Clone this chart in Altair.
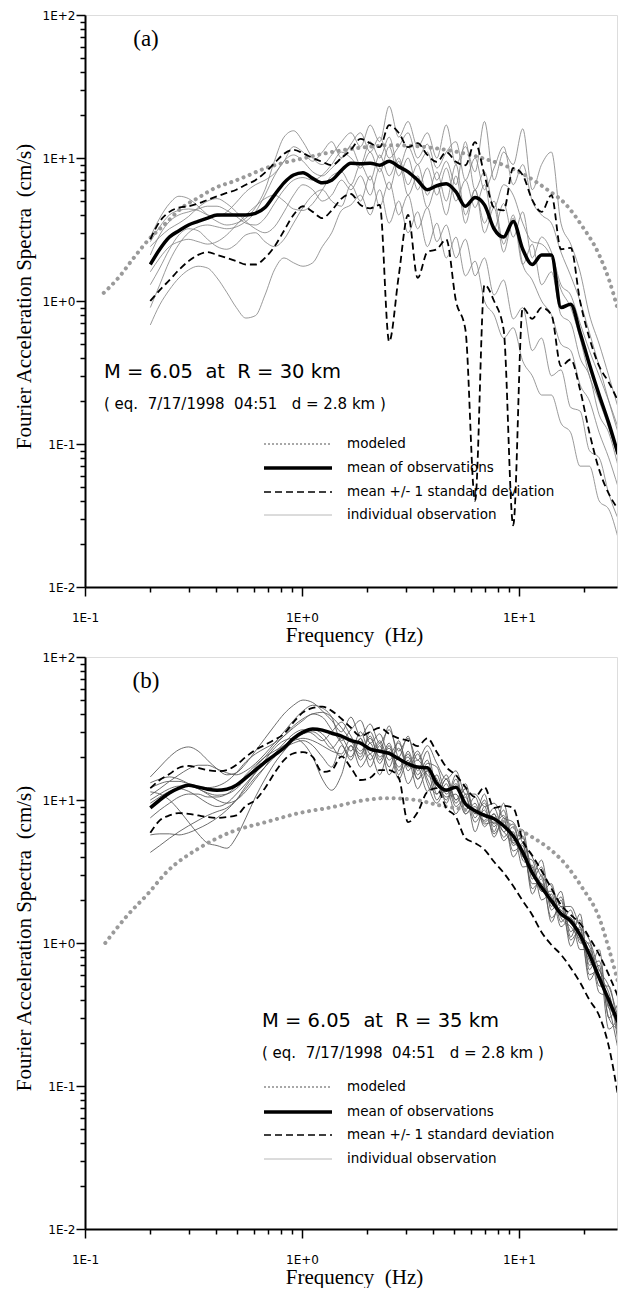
import altair as alt
import pandas as pd

# ---------------- data ----------------
FREQ = [0.200, 0.221, 0.245, 0.271, 0.300, 0.332, 0.367, 0.406, 0.450, 0.498,
        0.551, 0.610, 0.675, 0.746, 0.826, 0.914, 1.01, 1.12, 1.24, 1.37,
        1.52, 1.68, 1.86, 2.06, 2.28, 2.52, 2.79, 3.08, 3.41, 3.78,
        4.18, 4.62, 5.12, 5.66, 6.27, 6.93, 7.67, 8.49, 9.40, 10.4,
        11.5, 12.7, 14.1, 15.6, 17.3, 19.1, 21.1, 23.4, 25.9, 28.6]

# panel (a)
MOD_A_F = [0.122, 0.1435, 0.165, 0.197, 0.236, 0.28, 0.335, 0.40, 0.475, 0.57,
           0.68, 0.81, 0.97, 1.37, 1.97, 2.6, 3.35, 4.27, 5.7, 7.05,
           8.7, 10.8, 13.3, 16.5, 19.5, 23.4, 26.0, 28.6]
MOD_A = [1.14, 1.47, 1.94, 2.7, 3.5, 4.5, 5.3, 6.2, 6.8, 7.6,
         8.5, 9.2, 9.8, 11.0, 11.9, 12.3, 12.1, 11.6, 10.7, 9.8,
         8.8, 7.5, 6.1, 4.7, 3.35, 2.1, 1.4, 0.86]
MEAN_A = [1.8, 2.3, 2.8, 3.1, 3.4, 3.6, 3.8, 4.0, 4.0, 4.0,
          4.0, 4.1, 4.5, 5.5, 6.7, 7.6, 7.9, 7.2, 6.7, 7.0,
          8.2, 9.2, 9.1, 9.2, 8.9, 9.5, 8.7, 8.0, 7.0, 6.0,
          6.4, 6.6, 5.8, 4.6, 5.3, 4.7, 3.2, 2.8, 3.6, 2.3,
          1.8, 2.1, 2.1, 0.9, 0.95, 0.6, 0.36, 0.22, 0.14, 0.085]
UP_A = [2.7, 3.6, 4.2, 4.5, 4.6, 4.8, 5.1, 5.4, 5.7, 6.0,
        6.5, 7.0, 7.9, 9.2, 10.7, 11.4, 10.8, 10.0, 9.4, 8.9,
        10.0, 11.4, 13.6, 12.7, 11.9, 17.0, 15.0, 11.9, 12.7, 10.5,
        9.4, 11.0, 9.4, 8.9, 12.9, 7.6, 4.5, 4.3, 8.5, 7.6,
        5.1, 4.2, 5.5, 2.3, 2.35, 1.0, 0.55, 0.35, 0.27, 0.2]
LO_A = [1.0, 1.19, 1.4, 1.65, 1.9, 2.1, 2.2, 2.1, 2.0, 1.9,
        1.8, 1.8, 2.0, 2.4, 3.1, 4.0, 4.6, 4.2, 3.8, 4.3,
        5.2, 5.6, 4.7, 4.45, 4.7, 0.52, 1.5, 4.0, 1.45, 2.2,
        2.3, 2.7, 1.0, 0.63, 0.04, 1.3, 1.0, 0.63, 0.027, 0.9,
        0.75, 0.9, 0.8, 0.35, 0.39, 0.24, 0.12, 0.066, 0.045, 0.035]
OBS_A = [
    [2.8, 3.8, 4.8, 5.4, 5.2, 4.6, 4.0, 3.6, 3.4, 3.5,
     3.8, 4.5, 6.0, 9.5, 14, 15.5, 13, 10, 9.0, 10.5,
     13, 15, 12, 17, 13, 23, 14, 18, 12, 15,
     10, 17, 9.0, 12, 8.0, 18, 7.0, 11, 9.0, 16,
     6.0, 9.0, 11, 3.5, 2.5, 1.6, 0.8, 0.5, 0.3, 0.18],
    [0.68, 0.94, 1.2, 1.45, 1.65, 1.75, 1.7, 1.45, 1.15, 0.9,
     0.76, 0.79, 1.1, 1.65, 2.0, 1.85, 1.75, 1.85, 2.4, 3.0,
     4.3, 4.7, 5.5, 4.0, 6.0, 3.5, 5.0, 3.0, 4.2, 2.4,
     3.5, 2.0, 2.8, 1.5, 1.9, 1.0, 0.8, 0.55, 0.65, 0.38,
     0.3, 0.22, 0.22, 0.14, 0.12, 0.07, 0.07, 0.04, 0.035, 0.022],
    [1.3, 1.7, 2.3, 2.9, 3.2, 3.1, 2.7, 2.4, 2.3, 2.5,
     2.9, 3.0, 2.6, 2.4, 2.7, 3.5, 4.5, 5.5, 6.0, 5.0,
     4.6, 6.5, 5.0, 7.5, 4.6, 6.8, 4.0, 5.5, 3.2, 4.5,
     2.6, 3.4, 2.0, 2.7, 1.5, 2.0, 1.1, 1.4, 0.75, 0.9,
     0.45, 0.55, 0.3, 0.33, 0.18, 0.17, 0.09, 0.08, 0.045, 0.03],
    [2.1, 2.9, 3.6, 4.0, 4.2, 4.4, 4.6, 4.6, 4.3, 3.9,
     3.5, 3.4, 3.8, 4.8, 6.0, 7.0, 7.3, 7.0, 7.6, 9.0,
     11, 10, 8.5, 11, 8.0, 12, 7.5, 10, 6.0, 8.5,
     5.5, 8.5, 5.0, 7.0, 4.5, 6.5, 3.2, 4.8, 2.8, 4.2,
     2.0, 2.8, 2.2, 1.3, 1.1, 0.7, 0.45, 0.3, 0.2, 0.13],
    [2.4, 2.8, 3.2, 3.5, 3.9, 4.5, 5.0, 5.2, 4.8, 4.2,
     3.6, 3.2, 3.0, 3.3, 4.2, 5.5, 6.5, 6.0, 5.0, 5.5,
     7.0, 6.0, 7.5, 5.5, 8.5, 6.0, 9.5, 5.5, 7.5, 4.5,
     6.5, 4.0, 7.5, 3.5, 6.0, 3.0, 4.5, 2.2, 3.8, 1.8,
     2.5, 1.3, 1.6, 0.8, 0.7, 0.4, 0.3, 0.16, 0.12, 0.07],
    [0.9, 1.3, 1.9, 2.5, 3.0, 3.3, 3.4, 3.3, 3.2, 3.3,
     3.6, 4.2, 5.5, 7.5, 9.5, 10.5, 9.5, 8.0, 7.5, 8.5,
     10, 12, 9.0, 13, 10, 14, 8.5, 12, 9.0, 11,
     7.0, 9.5, 6.5, 13, 6.0, 8.0, 4.5, 6.5, 5.5, 3.5,
     2.6, 2.5, 2.0, 1.2, 0.9, 0.55, 0.3, 0.2, 0.13, 0.08],
    [1.6, 2.0, 2.4, 2.6, 2.7, 2.6, 2.5, 2.6, 2.9, 3.4,
     4.0, 4.6, 5.2, 5.5, 5.0, 4.4, 4.3, 4.8, 6.0, 7.5,
     8.0, 6.5, 9.0, 7.0, 10.5, 7.5, 10, 6.5, 9.0, 5.5,
     8.0, 5.0, 9.0, 4.0, 6.0, 3.5, 5.0, 2.5, 4.0, 1.8,
     1.4, 1.0, 0.8, 0.5, 0.45, 0.26, 0.2, 0.12, 0.08, 0.05],
    [2.6, 3.3, 4.0, 4.3, 4.4, 4.3, 4.0, 3.9, 4.2, 4.9,
     5.8, 6.5, 7.0, 7.8, 9.5, 12, 11, 9.5, 11, 13,
     10, 12.5, 15, 11, 14, 10, 12, 15, 10, 12.5,
     8.5, 11, 13, 7.0, 10, 6.0, 8.5, 12, 6.5, 9.0,
     5.0, 4.0, 3.5, 2.2, 1.5, 1.0, 0.6, 0.35, 0.2, 0.12],
]

# panel (b)
MOD_B_F = [0.124, 0.1545, 0.197, 0.236, 0.335, 0.475, 0.68, 0.97, 1.37, 1.97,
           2.44, 3.35, 4.27, 5.7, 8.1, 11.5, 13.7, 16.5, 19.5, 23.4,
           26.0, 28.6]
MOD_B = [1.0, 1.52, 2.25, 3.1, 4.6, 6.0, 7.0, 8.1, 8.9, 10.0,
         10.3, 10.0, 9.2, 8.5, 7.2, 5.5, 4.6, 3.5, 2.45, 1.5,
         0.9, 0.53]
MEAN_B = [8.8, 10.0, 11.2, 12.1, 12.7, 12.3, 11.9, 11.7, 11.9, 12.7,
          14.3, 16.2, 18.4, 20.6, 23.1, 27, 29.8, 31.4, 30.8, 29.3,
          28, 26, 25, 22.7, 21.9, 21.2, 19.4, 17.9, 17.0, 16.8,
          13.0, 11.7, 12.3, 9.4, 8.4, 7.8, 7.4, 6.6, 5.6, 4.3,
          3.1, 2.45, 1.97, 1.6, 1.42, 1.14, 0.83, 0.57, 0.40, 0.28]
UP_B = [12.1, 13.8, 15.2, 16.8, 17.3, 16.8, 16.2, 15.9, 16.2, 17.6,
        20, 22.4, 24.3, 26.4, 29, 35, 41, 44, 45, 42,
        37, 32, 28, 30, 32, 29, 27, 26, 23.8, 27,
        21.6, 17.0, 14.9, 12.3, 10.5, 12.3, 8.8, 9.1, 8.8, 5.2,
        4.1, 3.2, 2.4, 1.85, 1.57, 1.37, 1.09, 0.83, 0.6, 0.42]
LO_B = [5.9, 7.2, 7.8, 8.1, 8.0, 7.8, 7.6, 7.5, 7.6, 7.8,
        9.1, 10.0, 12.1, 15.4, 19.0, 21.2, 21.6, 20, 15.7, 16.2,
        20.2, 16.8, 13.8, 14.3, 16.2, 16.2, 14.3, 7.0, 8.2, 11.4,
        12.1, 8.8, 7.6, 5.4, 5.0, 4.5, 3.7, 3.1, 2.5, 1.97,
        1.57, 1.19, 0.97, 0.83, 0.67, 0.53, 0.40, 0.31, 0.19, 0.085]
OBS_B = [
    [14.5, 17, 20, 22.5, 23.5, 22, 19, 16.5, 15, 15.5,
     18, 22, 27, 33, 40, 46, 50, 48, 42, 36,
     30, 38, 28, 34, 25, 31, 22, 27, 19, 24,
     18, 14, 16, 11, 11, 9.0, 9.5, 7.5, 7.0, 5.0,
     4.0, 2.9, 2.5, 1.8, 1.8, 1.3, 1.05, 0.65, 0.5, 0.3],
    [11.4, 11, 10, 8.5, 7.0, 5.8, 5.0, 4.8, 4.6, 5.5,
     7.5, 10.5, 14, 18, 22, 26, 29, 31, 29, 24,
     20, 24, 17, 21, 15, 22, 14, 19, 12, 16,
     10, 13, 9.0, 10.5, 7.0, 8.5, 5.8, 7.2, 4.4, 4.8,
     2.4, 2.8, 1.5, 1.8, 1.05, 1.25, 0.6, 0.65, 0.3, 0.25],
    [4.3, 4.8, 5.4, 6.0, 6.6, 7.2, 7.8, 8.3, 8.8, 10,
     12, 14.5, 17, 20, 23, 25, 26, 24, 20, 17,
     24, 19, 27, 17, 24, 15, 20, 13, 17, 11.5,
     15, 9.5, 14, 8.0, 9.5, 6.5, 8.0, 5.2, 6.0, 3.4,
     3.5, 2.0, 2.2, 1.3, 1.5, 0.9, 0.9, 0.45, 0.42, 0.2],
    [5.7, 5.8, 5.8, 5.7, 5.9, 6.3, 6.8, 7.5, 8.5, 10,
     12.5, 15.5, 19, 23, 26, 27, 25, 20, 14, 11.7,
     15, 24, 20, 30, 22, 33, 20, 28, 16, 22,
     12, 15, 10, 12, 7.5, 10, 6.5, 8.5, 4.8, 5.6,
     2.8, 3.4, 1.7, 2.1, 1.2, 1.45, 0.7, 0.75, 0.35, 0.32],
    [13.2, 14, 14.5, 14, 13, 12, 11.2, 10.8, 11, 12,
     14, 17, 20, 24, 28, 33, 37, 40, 41, 38,
     32, 26, 21, 28, 19, 25, 16, 21, 14, 18,
     17, 11, 13, 9.5, 8.5, 7.2, 8.8, 6.0, 6.8, 4.0,
     3.8, 2.3, 2.6, 1.4, 1.7, 1.0, 1.0, 0.5, 0.5, 0.22],
    [12.1, 13, 13.5, 13.5, 13, 12.5, 12.2, 12.5, 13.5, 15.5,
     18.5, 21, 23, 25, 28, 32, 36, 40, 38, 31,
     25, 20, 27, 19, 25, 17, 26, 16, 21, 13,
     9.5, 12, 8.0, 11, 6.0, 9.0, 5.5, 7.5, 4.0, 5.0,
     2.2, 3.0, 1.4, 2.0, 0.95, 1.3, 0.55, 0.7, 0.25, 0.3],
    [10.0, 11, 12, 12.5, 12.5, 12, 11, 10, 9.5, 10,
     11.5, 14, 17, 21, 25, 29, 31, 29, 26, 30,
     35, 28, 22, 27, 20, 23, 17, 20, 14, 16,
     14, 10, 15, 8.5, 10.5, 7.0, 8.0, 5.5, 6.5, 3.8,
     3.4, 2.3, 2.3, 1.5, 1.3, 1.05, 0.8, 0.55, 0.36, 0.18],
    [10.8, 12, 13.5, 15, 16.5, 17.5, 17.5, 16.5, 15.5, 15,
     16, 18, 21, 25, 30, 36, 42, 46, 44, 38,
     26, 31, 36, 25, 29, 21, 25, 18, 22, 14,
     11, 14, 10, 13, 8.0, 11, 6.0, 9.5, 5.0, 6.2,
     3.0, 3.8, 1.8, 2.3, 1.1, 1.6, 0.65, 0.9, 0.3, 0.38],
    [9.5, 10.5, 11.5, 12, 11.5, 10.5, 9.5, 9.0, 9.5, 11,
     13, 15.5, 18, 21, 24, 27, 29, 30, 27, 23,
     27, 22, 30, 21, 26, 19, 23, 17, 19, 15,
     13, 10.5, 11, 8.0, 9.0, 6.8, 7.0, 6.0, 5.0, 4.5,
     2.6, 2.6, 1.9, 1.7, 1.4, 1.1, 0.75, 0.6, 0.38, 0.26],
    [7.5, 8.5, 9.5, 10.5, 11, 11, 10.5, 10.5, 11, 12.5,
     15, 17.5, 20, 22, 24, 26, 27, 26, 24, 22,
     21, 27, 19, 25, 18, 24, 15, 22, 15, 19,
     11, 14, 9.5, 12, 8.0, 9.5, 6.8, 7.8, 5.2, 5.4,
     3.2, 2.6, 2.1, 1.6, 1.5, 1.15, 0.95, 0.6, 0.45, 0.24],
]

X_TICKS = [0.1, 0.2, 0.3, 0.4, 0.5, 0.6, 0.7, 0.8, 0.9,
           1, 2, 3, 4, 5, 6, 7, 8, 9, 10, 20]
Y_TICKS = [0.01, 0.02, 0.03, 0.04, 0.05, 0.06, 0.07, 0.08, 0.09,
           0.1, 0.2, 0.3, 0.4, 0.5, 0.6, 0.7, 0.8, 0.9,
           1, 2, 3, 4, 5, 6, 7, 8, 9,
           10, 20, 30, 40, 50, 60, 70, 80, 90, 100]

LEGEND_A = ["modeled", "mean of observations", "mean +/- 1 standard deviation", "individual observation"]
LEGEND_B = ["modeled", "mean of observations", "mean +/- 1 standard deviation", "individual observation"]

for arr in [MEAN_A, UP_A, LO_A, MEAN_B, UP_B, LO_B] + OBS_A + OBS_B:
    assert len(arr) == len(FREQ), len(arr)
assert len(MOD_A) == len(MOD_A_F) and len(MOD_B) == len(MOD_B_F)

# ---------------- layout ----------------
W, H = 532, 572
X_DOMAIN = [0.1, 28.27]
Y_DOMAIN = [0.01, 100]
SANS = "DejaVu Sans"
SERIF = "Liberation Serif"

IS_MAJOR = "abs(log(datum.value)/LN10 - round(log(datum.value)/LN10)) < 0.001"
LABEL_EXPR = ("(" + IS_MAJOR + ") ? ('1E' + (round(log(datum.value)/LN10) >= 0 ? '+' : '-') + "
              "abs(round(log(datum.value)/LN10))) : ''")
TICK_SIZE = {"condition": {"test": IS_MAJOR, "value": 9}, "value": 5}

common_axis = dict(labelExpr=LABEL_EXPR, tickSize=TICK_SIZE, grid=False,
                   labelFont=SANS, labelFontSize=12, labelColor="black",
                   titleFont=SERIF, titleFontSize=21, titleFontWeight="normal",
                   titleColor="black", domainColor="black", domainWidth=2,
                   tickColor="black", tickWidth=1.5, labelOverlap=False,
                   labelFlush=False)


def encodings(title_y):
    x_axis = alt.Axis(values=X_TICKS, title="Frequency\u00a0 (Hz)", labelPadding=16,
                      titleX=269, titleAlign="center", titleY=title_y,
                      titleBaseline="alphabetic", **common_axis)
    y_axis = alt.Axis(values=Y_TICKS, title="Fourier Acceleration Spectra\u00a0 (cm/s)",
                      labelPadding=1, titleX=-55, titleY=281, titleAlign="center",
                      titleBaseline="alphabetic", **common_axis)
    X = alt.X("f:Q", scale=alt.Scale(type="log", domain=X_DOMAIN, nice=False), axis=x_axis)
    Y = alt.Y("A:Q", scale=alt.Scale(type="log", domain=Y_DOMAIN, nice=False), axis=y_axis)
    return X, Y


def lines(freq, values_list):
    rows = []
    for k, vals in enumerate(values_list):
        for f, a in zip(freq, vals):
            rows.append({"f": f, "A": a, "s": k})
    return pd.DataFrame(rows)


def text(t, x, y, size, font, align="left"):
    return alt.Chart(pd.DataFrame({"t": [t]})).mark_text(
        align=align, baseline="middle", font=font, fontSize=size, color="black"
    ).encode(text="t:N", x=alt.value(x), y=alt.value(y))


def legend_rule(y, x0, x1, **style):
    return alt.Chart(pd.DataFrame({"k": [0]})).mark_rule(**style).encode(
        x=alt.value(x0), x2=alt.value(x1), y=alt.value(y))


def panel(letter, mod_f, mod, mean, up, lo, obs, line1, line2, tx, ty,
          leg_labels, leg_y, title_y, obs_color, obs_width):
    X, Y = encodings(title_y)
    indiv = alt.Chart(lines(FREQ, obs)).mark_line(
        color=obs_color, strokeWidth=obs_width, clip=True, interpolate="monotone"
    ).encode(X, Y, detail="s:N")
    model = alt.Chart(lines(mod_f, [mod])).mark_line(
        color="#9a9a9a", strokeWidth=4, strokeDash=[0.1, 6.5], strokeCap="round",
        interpolate="monotone", clip=True).encode(X, Y)
    std = alt.Chart(lines(FREQ, [up, lo])).mark_line(
        color="black", strokeWidth=1.8, strokeDash=[7, 4], clip=True,
        interpolate="monotone").encode(X, Y, detail="s:N")
    mline = alt.Chart(lines(FREQ, [mean])).mark_line(
        color="black", strokeWidth=3.5, clip=True, interpolate="monotone").encode(X, Y)

    layers = [indiv, model, std, mline,
              text(letter, 61, 24, 23, SERIF, align="center"),
              text(line1, tx, ty, 19.5, SANS),
              text(line2, tx, ty + 32, 15, SANS)]
    lx0, lx1, ltx = 179, 247, 262
    styles = [dict(color="#a8a8a8", strokeWidth=2, strokeDash=[2, 2]),
              dict(color="black", strokeWidth=3.5),
              dict(color="black", strokeWidth=1.6, strokeDash=[7, 4]),
              dict(color="#b8b8b8", strokeWidth=1)]
    for lab, yy, st in zip(leg_labels, leg_y, styles):
        layers.append(legend_rule(yy, lx0, lx1, **st))
        layers.append(text(lab, ltx, yy, 13.5, SANS))
    return alt.layer(*layers).properties(width=W, height=H)


panel_a = panel("(a)", MOD_A_F, MOD_A, MEAN_A, UP_A, LO_A, OBS_A,
                "M = 6.05\u00a0 at\u00a0 R = 30 km",
                "( eq.\u00a0 7/17/1998\u00a0 04:51\u00a0\u00a0 d = 2.8 km )",
                19, 357, LEGEND_A, [429, 453, 477, 500], 54, "#808080", 0.8)
panel_b = panel("(b)", MOD_B_F, MOD_B, MEAN_B, UP_B, LO_B, OBS_B,
                "M = 6.05\u00a0 at\u00a0 R = 35 km",
                "( eq.\u00a0 7/17/1998\u00a0 04:51\u00a0\u00a0 d = 2.8 km )",
                177, 364, LEGEND_B, [430, 455, 478, 502], 54, "#5e5e5e", 0.9)

chart = alt.vconcat(panel_a, panel_b, spacing=70, bounds="flush").properties(
    padding={"left": 12, "top": 8, "right": 0, "bottom": 0}
).configure_view(stroke=None).configure(background="white")

chart.save("out.html", embed_options={"renderer": "svg", "actions": False})
